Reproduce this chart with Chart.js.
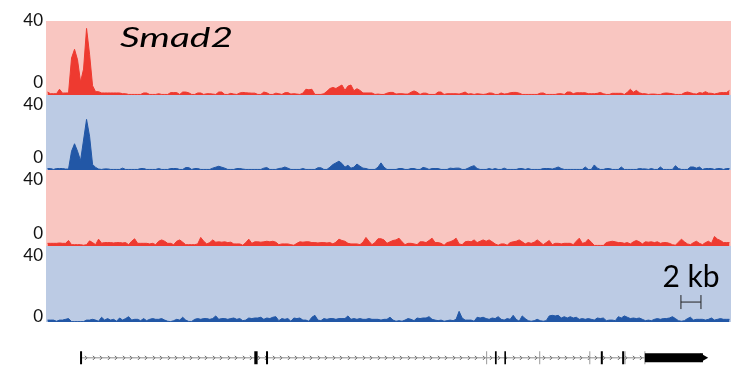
<!DOCTYPE html>
<html>
<head>
<meta charset="utf-8">
<script src="https://cdn.jsdelivr.net/npm/chart.js@4.4.1/dist/chart.umd.min.js"></script>
<style>
  html, body { margin: 0; padding: 0; background: #fff; }
  #wrap { width: 731px; height: 365px; }
</style>
</head>
<body>
<div id="wrap"><canvas id="grafico" width="731" height="365"></canvas></div>
<script>
// Dados: sinal em bins de 0,3 kb (escala 0-40)
const binKb = 0.3;
const yTicks = [0, 40];
const tituloGene = "Smad2";
const escalaKb = 2;

const signal1 = [
  1.6, 0.7, 0.7, 0.7, 3.1, 1.0, 1.1, 1.1, 20, 24.7,
  19, 7, 14, 36, 22, 5, 1.8, 1.8, 1.1, 1.1,
  1.1, 1.1, 1.1, 1.1, 1.1, 0.7, 0.7, 0.3, 0.3, 0.3,
  0.3, 0.3, 1.1, 1.1, 0.3, 0.3, 0.3, 0.7, 0.3, 0.3,
  0.3, 1.3, 1.3, 1.3, 0.3, 1.6, 1.6, 1.2, 0.3, 0.3,
  1.1, 1.1, 0.3, 0.7, 0.7, 0.5, 0.3, 1.6, 1.6, 0.3,
  0.3, 0.9, 0.5, 0.3, 1.1, 1.4, 1.2, 1.1, 1.0, 1.0,
  0.3, 0.3, 1.6, 1.2, 0.3, 0.3, 1.0, 0.7, 0.3, 1.2,
  1.3, 0.5, 0.7, 0.5, 0.3, 1.0, 3.1, 2.8, 3.1, 0.3,
  0.3, 0.3, 0.7, 2.0, 3.5, 4.1, 3.5, 4.5, 5.4, 2.5,
  4.8, 5.4, 2.3, 3.4, 2.5, 1.1, 1.1, 1.1, 1.1, 0.3,
  0.5, 0.3, 0.3, 1.0, 1.4, 1.4, 0.5, 0.7, 0.7, 0.5,
  0.5, 1.5, 2.2, 1.5, 0.3, 1.0, 1.0, 0.3, 0.3, 0.3,
  1.6, 1.6, 0.3, 0.7, 0.7, 0.7, 0.7, 0.5, 1.0, 1.6,
  0.5, 0.7, 0.3, 0.7, 0.5, 0.3, 0.5, 1.1, 1.0, 0.3,
  0.3, 1.1, 0.5, 0.7, 1.2, 1.4, 1.4, 1.0, 0.3, 0.3,
  0.3, 0.3, 0.3, 0.3, 1.0, 1.1, 0.3, 0.3, 0.3, 0.3,
  0.7, 0.7, 0.3, 1.6, 1.6, 0.7, 1.2, 1.2, 1.2, 1.2,
  0.7, 0.7, 0.7, 0.9, 1.4, 0.7, 0.3, 0.3, 0.9, 0.9,
  0.9, 0.9, 0.3, 1.5, 3.1, 1.5, 2.5, 1.2, 0.7, 0.7,
  0.3, 0.5, 0.5, 0.3, 0.3, 0.9, 1.1, 0.9, 0.7, 0.3,
  0.3, 0.3, 1.2, 1.6, 1.2, 0.7, 0.5, 1.3, 1.0, 1.8,
  1.0, 0.9, 0.5, 0.9, 1.3, 1.3, 1.3, 2.5
];

const signal2 = [
  0.8, 0.8, 0.3, 0.8, 0.8, 0.8, 0.5, 0.5, 10, 14,
  10, 5, 16, 27, 18, 3, 1.4, 0.5, 0.3, 0.6,
  0.6, 0.3, 0.3, 0.3, 0.3, 1.0, 0.3, 0.3, 0.3, 0.3,
  0.3, 0.8, 0.8, 0.3, 0.3, 0.3, 0.3, 0.8, 0.3, 0.3,
  0.3, 0.8, 0.8, 0.8, 0.3, 0.3, 1.3, 1.3, 0.3, 0.8,
  0.8, 0.3, 0.3, 0.3, 0.3, 1.0, 1.5, 2.0, 1.5, 1.0,
  0.3, 0.3, 0.3, 0.8, 0.8, 0.5, 0.3, 0.3, 0.3, 0.3,
  0.3, 0.3, 1.0, 1.3, 0.3, 0.3, 0.3, 0.8, 1.0, 1.6,
  1.0, 0.3, 0.3, 0.3, 0.3, 0.8, 0.3, 0.3, 0.3, 0.3,
  1.2, 1.2, 0.3, 0.3, 1.5, 2.9, 3.8, 4.7, 3.5, 1.5,
  2.5, 1.0, 1.5, 3.2, 2.0, 1.0, 0.8, 0.3, 0.3, 0.3,
  1.5, 3.8, 1.5, 0.3, 0.3, 0.3, 0.3, 0.8, 0.8, 0.3,
  0.3, 0.8, 0.8, 0.3, 0.3, 1.4, 1.0, 0.3, 0.8, 0.8,
  0.8, 0.3, 0.3, 0.3, 1.0, 0.8, 1.0, 1.0, 0.3, 0.3,
  1.0, 1.8, 2.3, 0.8, 0.3, 0.3, 0.3, 0.8, 0.3, 0.8,
  0.3, 0.3, 1.0, 0.3, 0.3, 0.3, 0.3, 0.8, 0.8, 0.3,
  0.8, 0.3, 0.3, 0.3, 0.3, 0.8, 0.8, 0.8, 0.5, 1.0,
  1.6, 0.8, 0.3, 0.3, 0.3, 0.3, 0.3, 0.3, 0.3, 1.6,
  0.3, 0.3, 2.7, 1.0, 0.3, 0.3, 0.8, 0.8, 0.3, 0.3,
  0.3, 1.6, 0.3, 0.3, 0.3, 0.3, 0.3, 0.8, 0.6, 0.6,
  0.3, 0.8, 0.3, 0.3, 1.6, 0.3, 0.3, 0.3, 0.3, 2.3,
  0.8, 0.3, 0.3, 0.3, 1.6, 1.6, 1.0, 1.6, 0.3, 0.8,
  0.8, 0.8, 0.3, 0.8, 0.8, 0.3, 0.8, 0.8
];

const signal3 = [
  1.4, 1.4, 1.4, 1.4, 1.6, 1.4, 1.4, 2.9, 0.7, 0.7,
  0.7, 0.7, 0.4, 0.7, 2.7, 1.8, 0.7, 3.6, 1.5, 1.8,
  1.8, 1.8, 1.6, 1.8, 1.8, 1.6, 1.8, 0.7, 2.5, 3.8,
  1.4, 1.4, 1.4, 1.4, 1.1, 1.4, 0.7, 2.5, 3.2, 2.5,
  1.4, 1.4, 0.7, 2.5, 3.2, 2.0, 0.7, 0.7, 0.7, 0.7,
  1.1, 4.5, 2.5, 1.1, 1.8, 3.2, 2.0, 2.2, 2.0, 2.2,
  1.8, 2.0, 1.1, 1.1, 1.1, 0.4, 1.8, 3.6, 1.4, 2.2,
  2.2, 2.0, 2.2, 2.5, 2.2, 2.5, 2.0, 0.7, 1.1, 1.1,
  1.1, 0.7, 0.4, 1.4, 2.2, 2.0, 2.2, 2.2, 1.8, 1.8,
  1.6, 1.8, 1.8, 1.6, 1.8, 1.1, 2.0, 3.6, 2.9, 2.5,
  1.4, 1.1, 1.1, 1.1, 0.7, 2.0, 4.5, 2.5, 0.7, 1.8,
  3.8, 3.8, 3.2, 1.4, 2.2, 2.9, 3.2, 4.1, 2.2, 0.7,
  1.4, 1.4, 1.1, 0.7, 2.2, 2.2, 1.8, 2.9, 4.1, 1.8,
  1.8, 1.4, 0.4, 1.8, 2.2, 2.9, 4.1, 1.1, 0.7, 2.2,
  2.5, 2.2, 3.2, 1.8, 2.5, 3.2, 2.5, 3.2, 2.2, 1.1,
  0.4, 1.1, 1.1, 0.4, 1.8, 2.2, 2.5, 3.2, 2.2, 1.1,
  1.8, 1.4, 2.0, 3.2, 2.0, 0.7, 1.8, 2.9, 0.7, 1.4,
  1.4, 1.1, 1.4, 1.4, 1.4, 0.7, 2.5, 4.1, 1.4, 1.8,
  3.6, 2.0, 0.3, 0.3, 0.3, 0.3, 1.8, 2.2, 2.5, 2.2,
  1.8, 1.8, 1.4, 1.8, 1.1, 2.2, 2.9, 2.2, 1.1, 2.2,
  2.0, 2.2, 1.8, 2.2, 1.4, 1.8, 1.8, 1.4, 0.7, 0.4,
  2.0, 3.6, 2.2, 1.1, 0.7, 1.8, 2.5, 1.4, 0.7, 1.8,
  2.5, 1.4, 5.0, 3.6, 2.9, 1.8, 1.8, 1.8
];

const signal4 = [
  1.0, 1.0, 1.0, 0.4, 1.0, 1.0, 1.4, 1.8, 0.2, 0.2,
  0.2, 0.2, 0.2, 1.0, 1.0, 1.4, 1.0, 0.4, 2.5, 1.0,
  1.8, 1.0, 1.4, 0.4, 2.1, 1.0, 1.8, 2.8, 1.0, 1.4,
  1.4, 0.7, 1.8, 0.7, 1.4, 1.8, 1.4, 1.4, 1.8, 1.0,
  0.4, 0.2, 0.7, 1.4, 1.0, 2.5, 1.0, 0.3, 0.3, 1.4,
  1.8, 1.4, 1.8, 1.8, 1.4, 1.8, 3.2, 1.4, 1.8, 1.8,
  1.4, 1.8, 2.1, 1.4, 1.8, 0.7, 1.0, 2.1, 1.8, 2.1,
  2.1, 2.5, 1.4, 2.1, 1.8, 2.5, 2.8, 0.7, 1.8, 1.4,
  1.8, 0.4, 2.1, 1.8, 2.1, 1.0, 1.0, 0.4, 2.5, 3.5,
  1.0, 0.7, 1.8, 1.4, 1.8, 1.8, 1.4, 1.8, 1.8, 1.8,
  3.2, 1.4, 1.8, 1.4, 1.8, 1.4, 1.4, 1.8, 1.4, 1.4,
  1.4, 1.0, 1.4, 1.4, 2.5, 1.0, 0.4, 0.7, 0.4, 1.0,
  1.8, 1.4, 0.7, 2.1, 1.8, 2.1, 2.1, 2.8, 1.4, 1.0,
  0.7, 1.0, 0.4, 0.7, 1.0, 0.7, 1.4, 5.6, 2.1, 1.0,
  1.0, 1.0, 0.4, 2.5, 2.1, 2.5, 1.8, 1.4, 2.1, 1.8,
  2.8, 1.4, 1.0, 1.8, 1.4, 3.5, 1.4, 0.4, 3.2, 1.8,
  0.7, 0.4, 0.7, 1.4, 0.7, 0.4, 0.7, 3.2, 3.5, 3.2,
  3.5, 2.1, 2.8, 2.1, 2.8, 2.1, 2.5, 1.4, 1.8, 1.4,
  1.8, 1.4, 1.0, 2.1, 1.8, 2.1, 0.7, 1.0, 1.0, 0.7,
  2.8, 2.1, 3.2, 2.5, 1.8, 2.1, 1.8, 2.1, 1.4, 0.7,
  1.0, 0.7, 1.4, 1.8, 1.4, 1.8, 1.8, 2.1, 2.8, 1.8,
  0.7, 0.4, 0.7, 1.8, 2.5, 1.0, 1.4, 1.4, 1.4, 1.0,
  1.4, 2.1, 1.0, 1.4, 1.8, 1.4, 1.4, 1.4
];

// Modelo do gene (kb)
const geneStartKb = 3.5;
const utrKb = [59.8, 65.6];
const exonsPretos = [
  [3.4, 3.6], [20.8, 21.13], [21.97, 22.17], [44.83, 45.0],
  [45.77, 45.93], [55.4, 55.6], [57.53, 57.73]
];
const exonsCinza = [
  [43.95, 44.05], [49.25, 49.35], [54.25, 54.35], [57.77, 57.87], [59.75, 59.85]
];

// Estilo das faixas
const sinais = [signal1, signal2, signal3, signal4];
const trackIds = ["y1", "y2", "y3", "y4"];
const trackPeso = [74, 75, 76, 76];
const trackFundo = ["#f9c6c1", "#bccbe4", "#f9c6c1", "#bccbe4"];
const trackCor = ["#ee3a30", "#2257a6", "#ee3a30", "#2257a6"];
const descTopo = [0, 10, 10, 10];   // deslocamento do rótulo 40 (px, para baixo)
const descZero = [12, 12, 12, 5.5]; // deslocamento do rótulo 0 (px, para cima)
const fonte = "Lato";

const xMax = signal1.length * binKb;
const barraInicioKb = 63.4;
const barraY = 10.5;

function segmentos(lista) {
  const pts = [];
  lista.forEach(([a, b]) => {
    pts.push({ x: a, y: 0 }, { x: b, y: 0 }, { x: b, y: null });
  });
  return pts;
}

function rotulo(t, v) {
  const d = v === 0 ? descZero[t] : descTopo[t];
  if (!d) return String(v);
  return v === 0 ? [String(v), ""] : ["", String(v)];
}

const datasets = [
  // barra de escala
  {
    data: [{ x: barraInicioKb, y: barraY }, { x: barraInicioKb + escalaKb, y: barraY }],
    yAxisID: "y4",
    borderColor: "#222",
    borderWidth: 1,
    pointStyle: "line",
    rotation: 90,
    pointRadius: 7,
    pointBorderWidth: 1,
    pointBorderColor: "#222",
    fill: false,
  },
  // UTR final com seta
  {
    data: [{ x: utrKb[0], y: 0 }, { x: utrKb[1], y: 0 }],
    yAxisID: "yg",
    borderColor: "#000",
    borderWidth: 9,
    pointStyle: "triangle",
    rotation: 90,
    pointRadius: [0, 5.2],
    pointBackgroundColor: "#000",
    pointBorderWidth: 0,
    fill: false,
  },
  {
    data: segmentos(exonsPretos),
    yAxisID: "yg",
    borderColor: "#000",
    borderWidth: 13,
    pointRadius: 0,
    fill: false,
  },
  {
    data: segmentos(exonsCinza),
    yAxisID: "yg",
    borderColor: "#9a9a9a",
    borderWidth: 13,
    pointRadius: 0,
    fill: false,
  },
  // íntron
  {
    data: [{ x: geneStartKb, y: 0 }, { x: utrKb[0], y: 0 }],
    yAxisID: "yg",
    borderColor: "#8c8c8c",
    borderWidth: 1,
    pointRadius: 0,
    fill: false,
  },
];

sinais.forEach((serie, t) => {
  datasets.push({
    data: serie.map((v, i) => ({ x: (i + 0.5) * binKb, y: v })),
    yAxisID: trackIds[t],
    borderColor: trackCor[t],
    backgroundColor: trackCor[t],
    borderWidth: 1,
    pointRadius: 0,
    fill: "origin",
    tension: 0,
  });
});

const escalas = {
  x: { type: "linear", min: 0, max: xMax, display: false },
};

trackIds.forEach((id, t) => {
  escalas[id] = {
    type: "linear",
    position: "left",
    stack: "faixas",
    stackWeight: trackPeso[t],
    weight: 10 - t,
    min: 0,
    max: 40,
    grid: { display: false, drawTicks: false },
    border: { display: false },
    ticks: {
      autoSkip: false,
      padding: 3,
      color: "#111",
      font: (c) => {
        const v = c.tick ? c.tick.value : 0;
        const d = v === 0 ? descZero[t] : descTopo[t];
        return { family: fonte, size: 17, lineHeight: d ? 2 * d + "px" : 1.2 };
      },
      callback: (v) => rotulo(t, v),
    },
    afterBuildTicks: (s) => {
      s.ticks = yTicks.map((v) => ({ value: v }));
    },
    afterFit: (s) => {
      s.width = 46;
      s.paddingTop = 0;
      s.paddingBottom = 0;
    },
  };
});

escalas.yg = {
  type: "linear",
  position: "left",
  stack: "faixas",
  stackWeight: 43,
  weight: 1,
  min: -1,
  max: 5,
  grid: { display: false, drawTicks: false },
  border: { display: false },
  ticks: { display: false },
  afterFit: (s) => {
    s.width = 46;
    s.paddingTop = 0;
    s.paddingBottom = 0;
  },
};

// Fundos, setas do íntron e textos
const faixasPlugin = {
  id: "faixas",
  beforeDraw(chart) {
    const { ctx, chartArea } = chart;
    trackIds.forEach((id, t) => {
      const s = chart.scales[id];
      ctx.fillStyle = trackFundo[t];
      ctx.fillRect(chartArea.left, s.top, chartArea.right - chartArea.left, s.bottom - s.top);
    });
  },
  beforeDatasetsDraw(chart) {
    const { ctx } = chart;
    const x = chart.scales.x;
    const yg = chart.scales.yg;
    const y = yg.getPixelForValue(0);
    const x0 = x.getPixelForValue(geneStartKb) + 5;
    const x1 = x.getPixelForValue(utrKb[0]) - 3;
    ctx.save();
    ctx.strokeStyle = "#555";
    ctx.lineWidth = 1;
    ctx.beginPath();
    for (let px = x0; px < x1; px += 7.5) {
      const p = Math.round(px) + 0.5;
      ctx.moveTo(p - 1.5, y - 2);
      ctx.lineTo(p + 0.5, y);
      ctx.lineTo(p - 1.5, y + 2);
    }
    ctx.stroke();
    ctx.restore();
  },
  afterDraw(chart) {
    const { ctx, chartArea } = chart;
    const s1 = chart.scales.y1;
    const s4 = chart.scales.y4;
    const x = chart.scales.x;

    ctx.save();
    ctx.fillStyle = "#000";
    ctx.font = "italic 27px " + fonte;
    ctx.textBaseline = "alphabetic";
    const larg = ctx.measureText(tituloGene).width;
    ctx.translate(chartArea.left + 74, s1.top + 26);
    ctx.scale(113 / larg, 1);
    ctx.fillText(tituloGene, 0, 0);
    ctx.restore();

    ctx.save();
    ctx.fillStyle = "#000";
    ctx.font = "30px " + fonte;
    ctx.textAlign = "center";
    ctx.textBaseline = "alphabetic";
    const cx = x.getPixelForValue(barraInicioKb + escalaKb / 2);
    const cy = s4.getPixelForValue(barraY) - 15;
    ctx.fillText(escalaKb + " kb", cx, cy);
    ctx.restore();
  },
};

const config = {
  type: "line",
  data: { datasets: datasets },
  options: {
    responsive: false,
    animation: false,
    events: [],
    layout: { autoPadding: false, padding: { top: 21, left: 0, right: 0, bottom: 0 } },
    plugins: {
      legend: { display: false },
      tooltip: { enabled: false },
    },
    scales: escalas,
  },
  plugins: [faixasPlugin],
};

const ctx = document.getElementById("grafico").getContext("2d");
const grafico = new Chart(ctx, config);
</script>
</body>
</html>
